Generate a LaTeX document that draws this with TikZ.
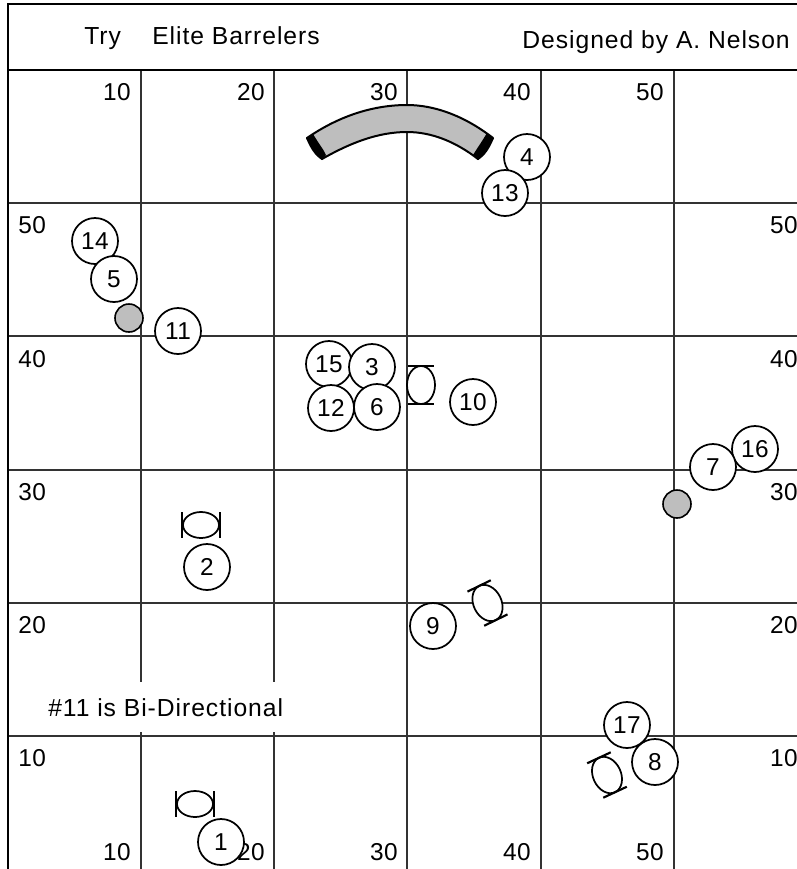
\documentclass[tikz,border=0pt]{standalone}
\usepackage{fontspec}
\setmainfont{Liberation Sans}
\newfontfamily\wide[LetterSpace=3.9]{Liberation Sans}
\newfontfamily\numf[LetterSpace=2]{Liberation Sans}
\definecolor{gridc}{HTML}{333333}
\definecolor{barrelc}{HTML}{BEBEBE}
\tikzset{
  x=0.75pt,y=-0.75pt,
  gridline/.style={draw=gridc,line width=1pt},
  border/.style={draw=black,line width=2.2pt},
  lab/.style={inner sep=0pt,font=\fontsize{18.3}{20}\numf},
  ttl/.style={inner sep=0pt,font=\fontsize{18.5}{20}\wide,anchor=base west},
  num/.style={circle,draw=black,fill=white,line width=1.3pt,minimum size=34.5pt,inner sep=0pt,font=\fontsize{18.3}{20}\numf},
  dot/.style={circle,draw=black,fill=barrelc,line width=1.2pt,minimum size=21pt,inner sep=0pt},
  gateline/.style={draw=black,line width=1.3pt,fill=white}
}
\newcommand{\gate}[3]{%
  \begin{scope}[shift={(#1,#2)},rotate=#3]
    \draw[gateline] (0,0) ellipse [x radius=14,y radius=19];
    \draw[draw=black,line width=1.6pt] (-13,-19) -- (13,-19) (-13,19) -- (13,19);
  \end{scope}}
\newcommand{\hgate}[2]{%
  \begin{scope}[shift={(#1,#2)}]
    \draw[gateline] (0,0) ellipse [x radius=18,y radius=13];
    \draw[draw=black,line width=1.6pt] (-19,-13) -- (-19,13) (19,-13) -- (19,13);
  \end{scope}}
\begin{document}
\begin{tikzpicture}
\useasboundingbox (0,0) rectangle (797,869);
\fill[white] (0,0) rectangle (797,869);
% grid
\foreach \gx in {141,274,407,541,674} \draw[gridline] (\gx,70) -- (\gx,869);
\foreach \gy in {203,336,470,603,736} \draw[gridline] (8,\gy) -- (797,\gy);
% note panel
\fill[white] (10,682) rectangle (797,732);
\draw[gridline] (407,680) -- (407,736) (541,680) -- (541,736) (674,680) -- (674,736);
% borders
\draw[border] (797,4) -- (8,4) -- (8,869);
\draw[border] (8,70) -- (797,70);
% titles
\node[ttl] (try) at (84,44) {Try};
\node[ttl] (team) at (152,44) {Elite Barrelers};
\node[ttl,anchor=base east] (designer) at (790,48) {Designed by A. Nelson};
\node[ttl] (note) at (48,716) {\#11 is Bi-Directional};
% scale labels
\foreach \v/\gx in {10/131,20/265,30/398,40/531,50/664} {
  \node[lab,anchor=east] (t\v) at (\gx,92) {\v};
  \node[lab,anchor=east] (b\v) at (\gx,852) {\v};
}
\foreach \v/\gy in {50/225,40/359,30/492,20/625,10/758} {
  \node[lab,anchor=west] (l\v) at (18,\gy) {\v};
  \node[lab,anchor=east] (r\v) at (798,\gy) {\v};
}
% barrier
\draw[fill=barrelc,draw=black,line width=1.5pt,line join=round]
  (307,138) .. controls (336,118) and (370,105) .. (407,105)
  .. controls (436,105) and (466,117) .. (493,138)
  -- (478,159)
  .. controls (456,142) and (432,132) .. (407,132)
  .. controls (378,132) and (350,143) .. (322,159) -- cycle;
\fill[black] (306,138) -- (313,134) .. controls (319,144) and (324,150) .. (326,155) -- (322,160) .. controls (315,156) and (310,148) .. (306,138) -- cycle;
\fill[black] (494,138) -- (487,133) .. controls (481,143) and (476,150) .. (473,155) -- (478,160) .. controls (485,156) and (490,148) .. (494,138) -- cycle;
% grey markers
\node[dot] (m1) at (129,318) {};
\node[dot] (m2) at (677,504) {};
% gates
\gate{421}{385}{0}
\gate{487.5}{603}{26}
\gate{607}{775}{25}
\hgate{201}{525}
\hgate{195}{804}
% numbered players
\node[num] (n4) at (527,157) {4};
\node[num] (n13) at (505,193) {13};
\node[num] (n14) at (95,241) {14};
\node[num] (n5) at (114,279) {5};
\node[num] (n11) at (178,331) {11};
\node[num] (n15) at (329,364) {15};
\node[num] (n3) at (372,367) {3};
\node[num] (n12) at (331,408) {12};
\node[num] (n6) at (377,407) {6};
\node[num] (n10) at (473,402) {10};
\node[num] (n16) at (755,449) {16};
\node[num] (n7) at (713,467) {7};
\node[num] (n2) at (207,567) {2};
\node[num] (n9) at (433,626) {9};
\node[num] (n17) at (627,725) {17};
\node[num] (n8) at (655,762) {8};
\node[num] (n1) at (221,842) {1};
\end{tikzpicture}
\end{document}
